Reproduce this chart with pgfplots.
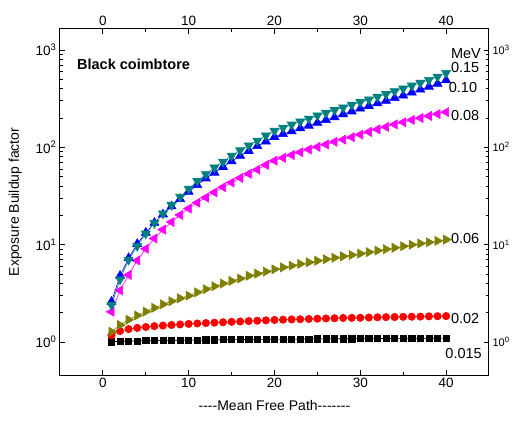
\documentclass[border=0pt]{standalone}
\usepackage{pgfplots}
\pgfplotsset{compat=1.18}
\usepackage{pgfplotstable}
\usepackage{fontspec}
\setmainfont{Liberation Sans}
\definecolor{cteal}{RGB}{0,128,128}
\definecolor{colive}{RGB}{128,128,0}
\definecolor{cmag}{RGB}{255,0,255}
\definecolor{cblue}{RGB}{0,0,255}
\definecolor{cred}{RGB}{255,0,0}
\pgfplotstableread{
x   a     b     c     d     e     f
1   1.01  1.18  1.28  2.05  2.6   2.4
2   1.02  1.30  1.50  3.4   4.8   4.4
3   1.025 1.36  1.70  4.9   7.3   7.0
4   1.03  1.40  1.88  6.9   10.2  9.7
5   1.035 1.43  2.06  9.1   13.3  13
6   1.04  1.46  2.25  11.6  16.8  16.7
7   1.042 1.48  2.45  14.3  20.5  20.9
8   1.045 1.50  2.63  17.1  24.8  25.5
9   1.048 1.52  2.82  20.2  29.5  31
10  1.05  1.54  3.0   23.5  35    37.5
11  1.052 1.555 3.25  27    41    45
12  1.055 1.57  3.5   30.5  48    53
13  1.057 1.585 3.75  34.5  55    62
14  1.06  1.60  4.0   39    63    71
15  1.062 1.615 4.25  43.5  72    82
16  1.064 1.63  4.5   48.5  82    93
17  1.066 1.645 4.8   53.5  92    104.5
18  1.068 1.66  5.05  59    103   117
19  1.07  1.675 5.3   66    115   132
20  1.072 1.69  5.6   73    128   148
21  1.074 1.70  5.85  78    137   159
22  1.075 1.71  6.1   83.5  146   171
23  1.077 1.72  6.35  89    157   184
24  1.078 1.73  6.6   95    167   197
25  1.08  1.74  6.85  101   179   212
26  1.081 1.75  7.1   107   191   226
27  1.083 1.76  7.35  114   204   241
28  1.084 1.77  7.6   120   219   256
29  1.085 1.775 7.85  127   234   273
30  1.087 1.78  8.1   135   250   291
31  1.088 1.79  8.4   144   266   310
32  1.089 1.80  8.7   153   283   330
33  1.09  1.805 9.0   162   301   352
34  1.092 1.81  9.3   172   321   376
35  1.093 1.82  9.65  181   341   402
36  1.094 1.825 10.0  191   366   430
37  1.095 1.83  10.3  200   392   460
38  1.097 1.84  10.6  210   420   492
39  1.098 1.845 10.95 220   450   530
40  1.10  1.85  11.3  230   488   580
}\datatable
\pgfplotsset{
  every axis/.append style={
    scale only axis, width=429pt, height=346pt,
    xmin=-5, xmax=45, ymin=0.46, ymax=1640,
    xtick={0,10,20,30,40}, xticklabels={0,10,20,30,40},
    minor x tick num=1,
    ytick={1,10,100,1000},
    yticklabels={10\textsuperscript{0},10\textsuperscript{1},10\textsuperscript{2},10\textsuperscript{3}},
    major tick length=5pt, minor tick length=3pt,
    every tick/.style={black, line width=0.8pt},
    axis line style={line width=1pt},
  }
}
\begin{document}
\begin{tikzpicture}
\useasboundingbox (-60pt,-54pt) rectangle (457pt,375pt);
\begin{axis}[at={(0,0)}, anchor=south west, ymode=log,
  xticklabel pos=lower, yticklabel pos=left,
  tick label style={font=\fontsize{13.5}{15}\selectfont},
  xlabel={-{}-{}-{}-Mean Free Path-{}-{}-{}-{}-{}-{}-{}}, ylabel={Exposure Buildup factor},
  label style={font=\fontsize{14}{16}\selectfont},
  xlabel shift=5pt, ylabel shift=7pt,
  every axis plot/.append style={line width=0.6pt},
]
\addplot[black, mark=square*, mark size=3.1pt] table[x=x,y=a]{\datatable};
\addplot[cred, mark=*, mark size=3.7pt] table[x=x,y=b]{\datatable};
\addplot[colive, mark=triangle*, mark size=5.2pt, mark options={rotate=-90}] table[x=x,y=c]{\datatable};
\addplot[cmag, mark=triangle*, mark size=5.2pt, mark options={rotate=90}] table[x=x,y=d]{\datatable};
\addplot[cblue, mark=triangle*, mark size=5.2pt] table[x=x,y=e]{\datatable};
\addplot[cteal, mark=triangle*, mark size=5.2pt, mark options={rotate=180}] table[x=x,y=f]{\datatable};
\node[anchor=west, inner sep=0pt, font=\bfseries\fontsize{14.5}{16}\selectfont] at (axis cs:-3.02,710) {Black coimbtore};
\begin{scope}[every node/.style={anchor=west, font=\fontsize{14.5}{16}\selectfont, inner sep=0pt}]
\node at (axis cs:40.55,920) {MeV};
\node at (axis cs:40.55,666) {0.15};
\node at (axis cs:40.3,415) {0.10};
\node at (axis cs:40.55,213) {0.08};
\node at (axis cs:40.55,11.6) {0.06};
\node at (axis cs:40.55,1.75) {0.02};
\node at (axis cs:39.9,0.766) {0.015};
\end{scope}
\end{axis}
\begin{axis}[at={(0,0)}, anchor=south west, ymode=log,
  xticklabel pos=upper, yticklabel pos=right,
  xticklabel style={font=\fontsize{13.5}{15}\selectfont},
  yticklabel style={font=\fontsize{11}{12}\selectfont},
]
\addplot[draw=none] coordinates {(0,1)};
\end{axis}
\end{tikzpicture}
\end{document}
